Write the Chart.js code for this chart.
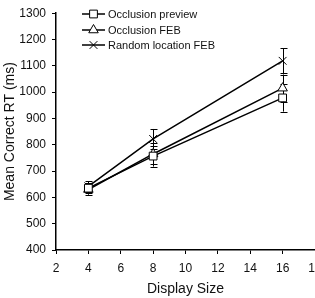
<!DOCTYPE html>
<html>
<head>
<meta charset="utf-8">
<script src="https://cdn.jsdelivr.net/npm/chart.js@4/dist/chart.umd.min.js"></script>
<style>
  html, body { margin: 0; padding: 0; background: #fff; overflow: hidden; }
  #wrap { width: 330px; height: 298px; }
</style>
</head>
<body>
<div id="wrap"><canvas id="chart" width="330" height="298"></canvas></div>
<script>
// ── Data ──
const displaySizes = [4, 8, 16];
const seriesNames = ['Occlusion preview', 'Occlusion FEB', 'Random location FEB'];
const previewRT = [635, 757, 978];
const previewErr = [20, 40, 52];
const febRT = [630, 765, 1015];
const febErr = [20, 40, 52];
const randomRT = [642, 822, 1119];
const randomErr = [20, 38, 47];
const yTicks = [400, 500, 600, 700, 800, 900, 1000, 1100, 1200, 1300];
const xTicks = [2, 4, 6, 8, 10, 12, 14, 16, 18];

const FONT = 'Liberation Sans, Arial, sans-serif';

function pts(vals) {
  return vals.map((v, i) => ({ x: displaySizes[i], y: v }));
}

// ── Error bars drawn under markers ──
const errorBars = {
  id: 'errorBars',
  beforeDatasetsDraw(chart) {
    const ctx = chart.ctx;
    const ys = chart.scales.y;
    ctx.save();
    ctx.strokeStyle = '#000';
    ctx.lineWidth = 1;
    chart.data.datasets.forEach((ds, di) => {
      const meta = chart.getDatasetMeta(di);
      meta.data.forEach((p, i) => {
        const v = ds.data[i].y, e = ds.errors[i];
        const x = Math.round(p.x) + 0.5;
        const y1 = ys.getPixelForValue(v + e), y2 = ys.getPixelForValue(v - e);
        ctx.beginPath();
        ctx.moveTo(x, y1); ctx.lineTo(x, y2);
        ctx.moveTo(x - 3, Math.round(y1) + 0.5); ctx.lineTo(x + 4, Math.round(y1) + 0.5);
        ctx.moveTo(x - 3, Math.round(y2) + 0.5); ctx.lineTo(x + 4, Math.round(y2) + 0.5);
        ctx.stroke();
      });
    });
    ctx.restore();
  }
};

// ── Legend inside plot, line + marker samples ──
const lineLegend = {
  id: 'lineLegend',
  afterDraw(chart) {
    const ctx = chart.ctx;
    const rows = [14, 30, 45];
    ctx.save();
    chart.data.datasets.forEach((ds, i) => {
      const y = rows[i];
      ctx.strokeStyle = '#000';
      ctx.lineWidth = 1.5;
      ctx.beginPath();
      ctx.moveTo(82, y); ctx.lineTo(105, y);
      ctx.stroke();
      // white-filled marker on top of the sample line
      ctx.fillStyle = '#fff';
      ctx.strokeStyle = '#000';
      ctx.lineWidth = 1;
      Chart.helpers.drawPoint(ctx, {
        pointStyle: ds.pointStyle, radius: ds.pointRadius, borderWidth: 1, rotation: 0
      }, 93.5, y);
      ctx.fillStyle = '#111';
      ctx.font = '11px ' + FONT;
      ctx.textBaseline = 'middle';
      ctx.fillText(seriesNames[i], 108, y + 0.5);
    });
    ctx.restore();
  }
};

function series(name, vals, errs, style, r) {
  return {
    label: name,
    data: pts(vals),
    errors: errs,
    borderColor: '#000',
    backgroundColor: '#fff',
    borderWidth: 1.5,
    pointStyle: style,
    pointRadius: r,
    pointBorderWidth: 1,
    pointBackgroundColor: '#fff',
    pointBorderColor: '#000',
    tension: 0
  };
}

new Chart(document.getElementById('chart'), {
  type: 'line',
  data: {
    datasets: [
      series(seriesNames[0], previewRT, previewErr, 'rect', 5.5),
      series(seriesNames[1], febRT, febErr, 'triangle', 5.5),
      series(seriesNames[2], randomRT, randomErr, 'crossRot', 5.5)
    ]
  },
  options: {
    responsive: false,
    animation: false,
    layout: { padding: { top: 5, right: 15, left: 0, bottom: 0 } },
    plugins: { legend: { display: false }, tooltip: { enabled: false } },
    scales: {
      x: {
        type: 'linear',
        min: 2, max: 18,
        afterBuildTicks: s => { s.ticks = xTicks.map(v => ({ value: v })); },
        afterFit: s => { s.height = 48; },
        grid: { display: true, drawOnChartArea: false, tickLength: 4, color: '#000' },
        border: { display: true, color: '#000', width: 1.5 },
        ticks: { color: '#111', font: { family: FONT, size: 12 }, padding: 7, maxRotation: 0, callback: v => String(v) },
        title: { display: true, text: 'Display Size', color: '#111', font: { family: FONT, size: 14 }, padding: { top: 0, bottom: 0 } }
      },
      y: {
        type: 'linear',
        min: 400, max: 1300,
        afterBuildTicks: s => { s.ticks = yTicks.map(v => ({ value: v })); },
        afterFit: s => { s.width = 56; },
        grid: { display: true, drawOnChartArea: false, tickLength: 4, color: '#000' },
        border: { display: true, color: '#000', width: 1.5 },
        ticks: { color: '#111', font: { family: FONT, size: 12 }, padding: 6, callback: v => String(v) },
        title: { display: true, text: 'Mean Correct RT (ms)', color: '#111', font: { family: FONT, size: 14 }, padding: { top: 2, bottom: 0 } }
      }
    }
  },
  plugins: [errorBars, lineLegend]
});
</script>
</body>
</html>
